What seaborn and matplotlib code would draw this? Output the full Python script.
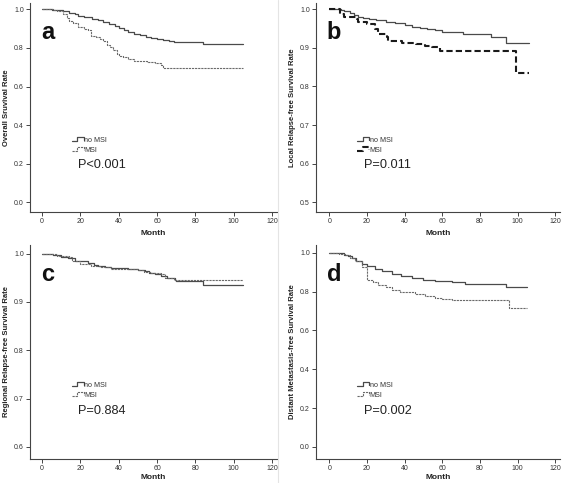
import matplotlib
matplotlib.use("Agg")
import matplotlib.pyplot as plt
import seaborn as sns
from matplotlib.lines import Line2D
from matplotlib.legend_handler import HandlerBase

sns.set_theme(style='white')
plt.rcParams['font.family'] = ['Liberation Sans', 'DejaVu Sans']

# Kaplan-Meier step curves (month, survival)
A_NOMSI_T = [0, 5, 8, 11, 14, 17, 19, 22, 26, 29, 32, 35, 38, 40, 43, 45, 48, 51, 54, 57, 60, 63, 66, 69, 84, 105]
A_NOMSI_S = [1.0, 0.998, 0.995, 0.99, 0.983, 0.975, 0.967, 0.96, 0.952, 0.943, 0.932, 0.922, 0.912, 0.905,
             0.893, 0.882, 0.873, 0.865, 0.858, 0.853, 0.848, 0.842, 0.837, 0.83, 0.822, 0.822]
A_MSI_T = [0, 6, 8, 11, 13, 14, 16, 19, 22, 24, 25.7, 28, 30, 32, 34, 35.5, 37, 39, 40, 42, 45, 48, 50, 55,
           59, 62, 63, 105]
A_MSI_S = [1.0, 0.995, 0.99, 0.976, 0.955, 0.941, 0.928, 0.91, 0.9, 0.893, 0.863, 0.855, 0.845, 0.837, 0.815,
           0.803, 0.79, 0.77, 0.76, 0.752, 0.742, 0.735, 0.73, 0.726, 0.72, 0.71, 0.695, 0.695]

B_NOMSI_T = [0, 6, 8, 11, 13, 15, 18, 21, 25, 30, 35, 40, 44, 48, 52, 56, 60, 65, 71, 86, 94, 106]
B_NOMSI_S = [1.0, 0.998, 0.996, 0.99, 0.985, 0.981, 0.977, 0.974, 0.971, 0.968, 0.965, 0.96, 0.955, 0.951,
             0.948, 0.945, 0.942, 0.94, 0.935, 0.927, 0.913, 0.913]
B_MSI_T = [0, 5.7, 7.8, 14.5, 15.4, 20, 24.3, 26, 30.5, 31, 38.4, 46, 51, 54.4, 58.8, 99.2, 106]
B_MSI_S = [1.0, 0.988, 0.981, 0.975, 0.966, 0.962, 0.949, 0.936, 0.927, 0.917, 0.912, 0.91, 0.905, 0.902,
           0.893, 0.834, 0.834]

C_NOMSI_T = [0, 5.7, 10, 13.6, 17, 24, 27, 29.2, 33, 36.2, 44.9, 50, 53.6, 56, 58.8, 62, 65, 69.2, 70, 84, 105]
C_NOMSI_S = [1.0, 0.997, 0.994, 0.991, 0.984, 0.981, 0.977, 0.974, 0.972, 0.97, 0.969, 0.966, 0.964, 0.961,
             0.957, 0.953, 0.949, 0.946, 0.944, 0.936, 0.936]
C_MSI_T = [0, 8, 14, 15.5, 19.7, 25.6, 30, 36, 44, 50, 53, 57, 62.2, 64, 69, 105]
C_MSI_S = [1.0, 0.996, 0.993, 0.985, 0.978, 0.974, 0.972, 0.969, 0.968, 0.966, 0.963, 0.96, 0.957, 0.949,
           0.946, 0.946]

D_NOMSI_T = [0, 5.7, 8, 10, 11.9, 14, 17.2, 20, 24.3, 28, 33.1, 38, 43.8, 50, 56.1, 60, 65, 70.3, 72, 93.6, 105]
D_NOMSI_S = [1.0, 0.997, 0.99, 0.982, 0.973, 0.96, 0.942, 0.933, 0.918, 0.908, 0.89, 0.88, 0.87, 0.862, 0.856,
             0.852, 0.85, 0.847, 0.838, 0.826, 0.826]
D_MSI_T = [0, 5, 8.3, 11, 13.6, 17.2, 19.8, 23, 26, 30, 33.1, 37.5, 45.5, 50.8, 56, 60, 65, 95.4, 105]
D_MSI_S = [1.0, 0.995, 0.987, 0.972, 0.956, 0.925, 0.861, 0.848, 0.835, 0.822, 0.81, 0.796, 0.787, 0.775,
           0.768, 0.762, 0.757, 0.718, 0.718]

LABELS = ['no MSI', 'MSI']
P_VALUES = ['P<0.001', 'P=0.011', 'P=0.884', 'P=0.002']
LETTERS = ['a', 'b', 'c', 'd']
YLABELS = ['Overall Sruvival Rate', 'Local Relapse-free Survival Rate',
           'Regional Relapse-free Survival Rate', 'Distant Metastasis-free Survival Rate']
X_TICKS = [0, 20, 40, 60, 80, 100, 120]
Y_TICKS = [[0.0, 0.2, 0.4, 0.6, 0.8, 1.0],
           [0.5, 0.6, 0.7, 0.8, 0.9, 1.0],
           [0.6, 0.7, 0.8, 0.9, 1.0],
           [0.0, 0.2, 0.4, 0.6, 0.8, 1.0]]

CURVES = [(A_NOMSI_T, A_NOMSI_S, A_MSI_T, A_MSI_S),
          (B_NOMSI_T, B_NOMSI_S, B_MSI_T, B_MSI_S),
          (C_NOMSI_T, C_NOMSI_S, C_MSI_T, C_MSI_S),
          (D_NOMSI_T, D_NOMSI_S, D_MSI_T, D_MSI_S)]

# layout of the four panels in figure fractions, plus axis limits
POS = [[0.0529, 0.5611, 0.4356, 0.4327],
       [0.5573, 0.5611, 0.4303, 0.4327],
       [0.0529, 0.0497, 0.4356, 0.4431],
       [0.5573, 0.0497, 0.4303, 0.4431]]
XLIM = [(-6.3, 122.6), (-7.1, 122.5), (-6.3, 122.6), (-7.1, 122.5)]
YLIM = [(-0.05, 1.033), (0.475, 1.016), (0.575, 1.018), (-0.062, 1.04)]
XLABEL_PAD = [3.5, 3.5, 1.0, 1.0]


class StepHandler(HandlerBase):
    # SPSS style legend icon: a little step
    def create_artists(self, legend, orig_handle, xdescent, ydescent, width, height, fontsize, trans):
        xs = [-xdescent + width * f for f in (0.0, 0.45, 0.45, 1.0, 1.0)]
        ys = [-ydescent + height * f for f in (0.25, 0.25, 0.95, 0.95, 0.45)]
        line = Line2D(xs, ys)
        line.update_from(orig_handle)
        line.set_transform(trans)
        return [line]


fig = plt.figure(figsize=(5.67, 4.83), dpi=100)
fig.patch.set_facecolor('white')

for i in range(4):
    ax = fig.add_axes(POS[i])
    t0, s0, t1, s1 = CURVES[i]
    sns.lineplot(x=t0, y=s0, ax=ax, drawstyle='steps-post', color='#4a4a4a', lw=0.9,
                 estimator=None, label=LABELS[0])
    if i == 1:
        sns.lineplot(x=t1, y=s1, ax=ax, drawstyle='steps-post', color='#1a1a1a', lw=1.5,
                     linestyle=(0, (3, 1.5)), estimator=None, label=LABELS[1])
    else:
        sns.lineplot(x=t1, y=s1, ax=ax, drawstyle='steps-post', color='#6a6a6a', lw=0.8,
                     linestyle=(0, (2, 0.8)), estimator=None, label=LABELS[1])

    ax.set_xlim(*XLIM[i])
    ax.set_ylim(*YLIM[i])
    ax.set_xticks(X_TICKS)
    ax.set_yticks(Y_TICKS[i])
    ax.set_yticklabels(['%.1f' % v for v in Y_TICKS[i]])
    ax.tick_params(axis='both', direction='out', length=3, width=0.7, color='#444444',
                   labelsize=5, labelcolor='#333333', pad=1.5, left=True, bottom=True)
    sns.despine(ax=ax)
    for sp in ('left', 'bottom'):
        ax.spines[sp].set_color('#444444')
        ax.spines[sp].set_linewidth(0.8)

    ax.set_xlabel('Month', fontsize=6, fontweight='bold', color='#222222', labelpad=XLABEL_PAD[i])
    ax.set_ylabel(YLABELS[i], fontsize=5.5, fontweight='bold', color='#222222', labelpad=3)

    ax.text(0.045, 0.86, LETTERS[i], transform=ax.transAxes, fontsize=17, fontweight='bold',
            color='#111111', ha='left', va='center')
    ax.text(0.195, 0.225, P_VALUES[i], transform=ax.transAxes, fontsize=9.2, color='#222222',
            ha='left', va='center')

    handles = ax.get_lines()[:2]
    ax.legend(handles=handles, labels=LABELS, loc='upper left', bbox_to_anchor=(0.17, 0.36),
              frameon=False, fontsize=5.2, handlelength=1.6, handleheight=0.9, handletextpad=0.1,
              labelspacing=0.35, borderpad=0, borderaxespad=0, labelcolor='#333333',
              handler_map={Line2D: StepHandler()})

# faint panel separator
fig.add_artist(Line2D([0.49, 0.49], [0.0, 1.0], transform=fig.transFigure, color='#e4e4e4', lw=0.8))

plt.savefig('out.png', dpi=100)
